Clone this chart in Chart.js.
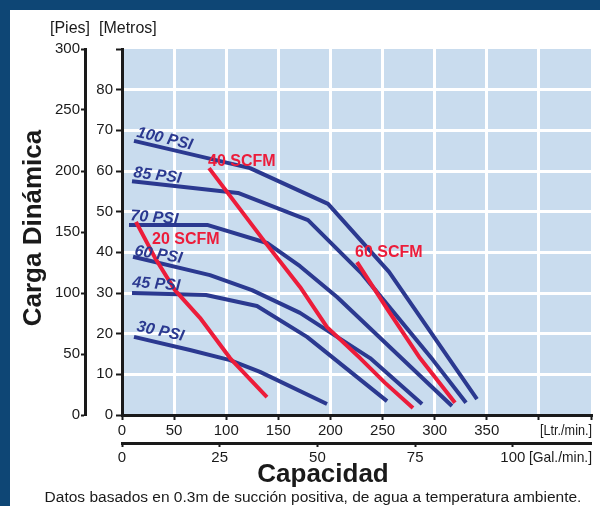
<!DOCTYPE html>
<html>
<head>
<meta charset="utf-8">
<script src="https://cdn.jsdelivr.net/npm/chart.js@4/dist/chart.umd.min.js"></script>
<style>
	html, body { margin: 0; padding: 0; background: #0e4675; }
	#wrap { position: absolute; left: 10px; top: 10px; width: 590px; height: 496px; background: #fff; }
	canvas { display: block; }
</style>
</head>
<body>
<div id="wrap"><canvas id="curveChart" width="590" height="496"></canvas></div>
<script>
// tick labels
var ltrTicks = [0, 50, 100, 150, 200, 250, 300, 350];   // Ltr/min (shown)
var galTicks = [0, 25, 50, 75, 100];                     // Gal/min
var metrosTicks = [0, 10, 20, 30, 40, 50, 60, 70, 80];
var piesTicks = [0, 50, 100, 150, 200, 250, 300];

// performance curves, [Ltr/min, metros]
var psi100 = [[11.5, 67.4], [122.8, 60.7], [197.7, 51.9], [256.2, 35.2], [340.6, 3.9]];
var psi85  = [[9.6, 57.5], [111.3, 54.6], [178.5, 47.9], [230.3, 34.7], [298.4, 13.5], [330.1, 3.0]];
var psi70  = [[6.7, 46.7], [82.5, 46.7], [139.1, 42.3], [170.8, 36.6], [206.3, 29.0], [316.6, 2.2]];
var psi60  = [[10.6, 38.9], [84.4, 34.4], [124.7, 30.7], [170.8, 25.1], [238.0, 14.0], [287.9, 2.7]];
var psi45  = [[9.6, 30.0], [80.6, 29.5], [129.5, 26.8], [177.5, 19.2], [254.3, 3.4]];
var psi30  = [[11.5, 19.2], [65.2, 16.0], [103.6, 13.5], [132.4, 10.6], [196.7, 2.7]];

// air consumption curves
var scfm20 = [[13.4, 47.5], [32.0, 38.5], [50.8, 30.7], [74.8, 23.9], [103.6, 14.0], [139.1, 4.4]];
var scfm40 = [[83.5, 60.7], [137.2, 42.5], [170.8, 31.5], [196.7, 21.6], [228.4, 14.0], [252.4, 7.9], [279.2, 1.7]];
var scfm60 = [[225.5, 37.6], [255.2, 25.8], [285.9, 14.0], [319.5, 3.0]];

var BLUE = '#2b3990', RED = '#ec1c3a', PLOT_BG = '#c9dcee', INK = '#1a1a1a';
var FONT = '"Liberation Sans", Arial, Helvetica, sans-serif';

// curve labels: anchor (left/baseline) in data units, angle in degrees
var curveLabels = [
	{text: '100 PSI', at: [13.4, 68.4], angle: 13, color: BLUE, italic: true},
	{text: '85 PSI', at: [10.6, 58.5], angle: 7, color: BLUE, italic: true},
	{text: '70 PSI', at: [7.7, 47.9], angle: 4.5, color: BLUE, italic: true},
	{text: '60 PSI', at: [11.5, 39.3], angle: 9.5, color: BLUE, italic: true},
	{text: '45 PSI', at: [9.6, 31.5], angle: 4, color: BLUE, italic: true},
	{text: '30 PSI', at: [13.4, 20.7], angle: 12, color: BLUE, italic: true},
	{text: '40 SCFM', at: [82.5, 61.2], angle: 0, color: RED},
	{text: '20 SCFM', at: [28.8, 42.0], angle: 0, color: RED},
	{text: '60 SCFM', at: [223.6, 38.9], angle: 0, color: RED}
];

function pts(arr){ return arr.map(function(p){ return {x: p[0], y: p[1]}; }); }
function curve(arr, color, order){
	return {data: pts(arr), borderColor: color, borderWidth: 4, pointRadius: 0, tension: 0,
		fill: false, order: order, borderCapStyle: 'butt', borderJoinStyle: 'round'};
}
function edgeClear(c){
	var v = c.tick ? c.tick.value : null;
	return (v === c.scale.min || v === c.scale.max) ? 'rgba(0,0,0,0)' : '#ffffff';
}

var chartDeco = {
	id: 'chartDeco',
	beforeDraw: function(chart){
		var a = chart.chartArea, ctx = chart.ctx;
		ctx.save();
		ctx.fillStyle = PLOT_BG;
		ctx.fillRect(a.left, a.top, a.right - a.left, a.bottom - a.top);
		ctx.restore();
	},
	afterDatasetsDraw: function(chart){
		var ctx = chart.ctx, xs = chart.scales.x, ys = chart.scales.y;
		ctx.save();
		curveLabels.forEach(function(l){
			ctx.font = (l.italic ? 'italic bold 16px ' : 'bold 16px ') + FONT;
			ctx.fillStyle = l.color;
			ctx.textAlign = 'left';
			ctx.textBaseline = 'alphabetic';
			ctx.save();
			ctx.translate(xs.getPixelForValue(l.at[0]), ys.getPixelForValue(l.at[1]));
			ctx.rotate(l.angle * Math.PI / 180);
			ctx.fillText(l.text, 0, 0);
			ctx.restore();
		});
		ctx.restore();
	},
	afterDraw: function(chart){
		var ctx = chart.ctx, a = chart.chartArea;
		ctx.save();
		ctx.fillStyle = INK;
		ctx.textBaseline = 'alphabetic';
		ctx.font = '16px ' + FONT;
		ctx.textAlign = 'left';
		ctx.fillText('[Pies]', 40, 22.5);
		ctx.fillText('[Metros]', 89, 22.5);
		ctx.textAlign = 'right';
		ctx.font = '14px ' + FONT;
		ctx.fillText('[Ltr./min.]', a.right + 1, 425, 52);
		ctx.font = '15px ' + FONT;
		ctx.fillText('[Gal./min.]', a.right + 1, 452, 63);
		ctx.textAlign = 'center';
		ctx.font = 'bold 26px ' + FONT;
		ctx.fillText('Capacidad', 313, 471.5);
		ctx.font = '15.5px ' + FONT;
		ctx.fillText('Datos basados en 0.3m de succión positiva, de agua a temperatura ambiente.', 303, 491.5, 554);
		ctx.save();
		ctx.translate(31, 218);
		ctx.rotate(-Math.PI / 2);
		ctx.font = 'bold 26px ' + FONT;
		ctx.fillText('Carga Dinámica', 0, 0);
		ctx.restore();
		ctx.restore();
	}
};

Chart.defaults.font.family = FONT;
Chart.defaults.color = INK;

new Chart(document.getElementById('curveChart'), {
	type: 'line',
	data: {
		datasets: [
			curve(psi100, BLUE, 1), curve(psi85, BLUE, 1), curve(psi70, BLUE, 1),
			curve(psi60, BLUE, 1), curve(psi45, BLUE, 1), curve(psi30, BLUE, 1),
			curve(scfm20, RED, 0), curve(scfm40, RED, 0), curve(scfm60, RED, 0)
		]
	},
	options: {
		responsive: false,
		animation: false,
		layout: { padding: { top: 39, right: 9, bottom: 33, left: 0 } },
		plugins: { legend: { display: false }, tooltip: { enabled: false } },
		scales: {
			x: {
				type: 'linear', position: 'bottom', min: 0, max: 450, weight: 0,
				ticks: { stepSize: 50, padding: 2, maxRotation: 0, font: { size: 15 },
					callback: function(v){ return ltrTicks.indexOf(v) >= 0 ? String(v) : ''; } },
				grid: { color: edgeClear, lineWidth: 3, tickColor: INK, tickWidth: 2, tickLength: 5 },
				border: { color: INK, width: 3 },
				afterFit: function(s){ s.height = 28; }
			},
			x2: {
				type: 'linear', position: 'bottom', min: 0, max: 120, weight: 1,
				afterBuildTicks: function(s){ s.ticks = galTicks.map(function(v){ return {value: v}; }); },
				ticks: { padding: 2, maxRotation: 0, font: { size: 15 } },
				grid: { drawOnChartArea: false, tickColor: INK, tickWidth: 2, tickLength: 4 },
				border: { color: INK, width: 3 },
				afterFit: function(s){ s.height = 30; }
			},
			y: {
				type: 'linear', position: 'left', min: 0, max: 90, weight: 0,
				ticks: { stepSize: 10, padding: 3, font: { size: 15 },
					callback: function(v){ return metrosTicks.indexOf(v) >= 0 ? String(v) : ''; } },
				grid: { color: edgeClear, lineWidth: 3, tickColor: INK, tickWidth: 2, tickLength: 6 },
				border: { color: INK, width: 3 },
				afterFit: function(s){ s.width = 37; }
			},
			y2: {
				type: 'linear', position: 'left', min: 0, max: 300, weight: 1,
				ticks: { stepSize: 50, padding: 1, font: { size: 15 },
					callback: function(v){ return piesTicks.indexOf(v) >= 0 ? String(v) : ''; } },
				grid: { drawOnChartArea: false, tickColor: INK, tickWidth: 2, tickLength: 4 },
				border: { color: INK, width: 3 },
				afterFit: function(s){ s.width = 75; }
			}
		}
	},
	plugins: [chartDeco]
});
</script>
</body>
</html>
